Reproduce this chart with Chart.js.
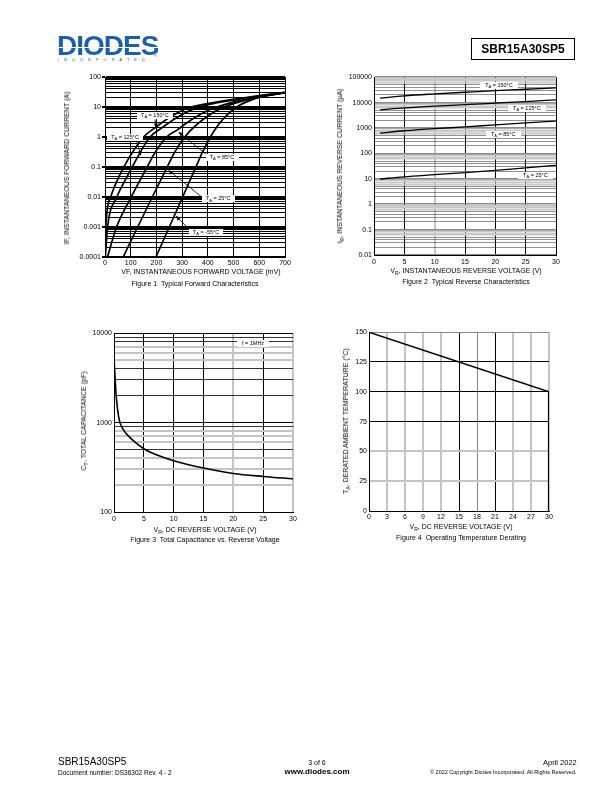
<!DOCTYPE html>
<html>
<head>
<meta charset="utf-8">
<script src="https://cdn.jsdelivr.net/npm/chart.js@4.4.1/dist/chart.umd.min.js"></script>
<style>
  body { margin: 0; background: #fff; }
  #page { position: relative; width: 612px; height: 792px; overflow: hidden; font-family: "Liberation Sans", Arial, sans-serif; color: #000; }
  canvas { position: absolute; }
  .t { position: absolute; white-space: nowrap; font-size: 7px; line-height: 8px; color: #000; transform: translate(-50%, -50%); will-change: transform; }
  .r { transform: translate(-50%, -50%) rotate(-90deg); }
  .t sub { font-size: 5px; vertical-align: -1.5px; line-height: 0; }
  .abs { position: absolute; white-space: nowrap; color: #000; will-change: transform; }
  #logo { left: 57px; top: 32px; font: bold 28px/28px "Liberation Sans", Arial, sans-serif; letter-spacing: -1px;
          color: transparent; -webkit-background-clip: text; background-clip: text;
          background-image: linear-gradient(to bottom, #1d5ea9 0, #1d5ea9 52%, #fff 52%, #fff 56%, #1d5ea9 56%, #1d5ea9 100%); }
  #inc { left: 58px; top: 58px; font: 4px/4px "Liberation Sans", Arial, sans-serif; letter-spacing: 5px; color: #1d5ea9; }
  #partbox { left: 471px; top: 38px; width: 104px; height: 22px; box-sizing: border-box; border: 1px solid #000;
             font: bold 12px/20px "Liberation Sans", Arial, sans-serif; text-align: center; }
</style>
</head>
<body>
<div id="page">
  <div id="logo" class="abs">DIODES</div>
  <div id="inc" class="abs">INCORPORATED</div>
  <div class="abs" style="left:154px;top:53px;font-size:4px;color:#1d5ea9">®</div>
  <div id="partbox" class="abs">SBR15A30SP5</div>

  <canvas id="c1"></canvas>
  <canvas id="c2"></canvas>
  <canvas id="c3"></canvas>
  <canvas id="c4"></canvas>

  <div class="t r" style="left:67px;top:168px">IF, INSTANTANEOUS FORWARD CURRENT (A)</div>
  <div class="t" style="left:201px;top:272px">VF, INSTANTANEOUS FORWARD VOLTAGE (mV)</div>
  <div class="t" style="left:195px;top:284px">Figure 1&nbsp; Typical Forward Characteristics</div>

  <div class="t r" style="left:340px;top:166px">I<sub>R</sub>, INSTANTANEOUS REVERSE CURRENT (µA)</div>
  <div class="t" style="left:466px;top:271px">V<sub>R</sub>, INSTANTANEOUS REVERSE VOLTAGE (V)</div>
  <div class="t" style="left:466px;top:282px">Figure 2&nbsp; Typical Reverse Characteristics</div>

  <div class="t r" style="left:84px;top:421px">C<sub>T</sub>, TOTAL CAPACITANCE (pF)</div>
  <div class="t" style="left:205px;top:530px">V<sub>R</sub>, DC REVERSE VOLTAGE (V)</div>
  <div class="t" style="left:205px;top:540px">Figure 3&nbsp; Total Capacitance vs. Reverse Voltage</div>

  <div class="t r" style="left:346px;top:421px">T<sub>A</sub>, DERATED AMBIENT TEMPERATURE (°C)</div>
  <div class="t" style="left:461px;top:527px">V<sub>R</sub>, DC REVERSE VOLTAGE (V)</div>
  <div class="t" style="left:461px;top:538px">Figure 4&nbsp; Operating Temperature Derating</div>

  <div class="abs" style="left:58px;top:757px;font-size:10px;line-height:10px">SBR15A30SP5</div>
  <div class="abs" style="left:58px;top:769px;font-size:6.5px;line-height:7px">Document number: DS36302 Rev. 4 - 2</div>
  <div class="abs" style="left:306px;top:759px;width:22px;text-align:center;font-size:7px;line-height:8px">3 of 6</div>
  <div class="abs" style="left:277px;top:767px;width:80px;text-align:center;font-size:8px;line-height:9px;font-weight:bold">www.diodes.com</div>
  <div class="abs" style="right:35px;top:759px;font-size:7.5px;line-height:8px">April 2022</div>
  <div class="abs" style="right:35px;top:769px;font-size:5.5px;line-height:6px">© 2022 Copyright Diodes Incorporated. All Rights Reserved.</div>
</div>

<script>
// ---- Figure 1: forward characteristics (mV, A) ----
const fwd150V = [0.3, 3, 22, 55, 78, 100, 150, 200, 260, 320, 400, 500, 600, 700];
const fwd150I = [1e-4, 1e-3, 0.01, 0.05, 0.117, 0.25, 1, 2.2, 5, 9, 13, 18, 24, 31];
const fwd125V = [1.2, 10, 46, 87, 110, 131, 175, 220, 280, 350, 420, 500, 600, 700];
const fwd125I = [1e-4, 1e-3, 0.01, 0.05, 0.117, 0.25, 1, 2, 4.5, 9, 13, 17, 23, 30];
const fwd85V = [9.7, 45, 102, 145, 168, 194, 240, 280, 330, 390, 450, 520, 600, 700];
const fwd85I = [1e-4, 1e-3, 0.01, 0.05, 0.117, 0.3, 1, 1.7, 3.5, 7, 11, 16, 22, 30];
const fwd25V = [71, 127, 184, 246, 270, 310, 350, 400, 450, 500, 560, 620, 700];
const fwd25I = [1e-4, 1e-3, 0.01, 0.117, 0.3, 1, 2.3, 5, 9, 13, 18, 23, 30];
const fwdM55V = [198, 250, 302, 357, 378, 410, 440, 480, 520, 560, 610, 700];
const fwdM55I = [1e-4, 1e-3, 0.01, 0.117, 0.3, 1, 2.5, 6, 11, 16, 22, 30];
const fwdYTicks = [1e-4, 1e-3, 0.01, 0.1, 1, 10, 100];
const fwdYLabels = ['0.0001', '0.001', '0.01', '0.1', '1', '10', '100'];

// ---- Figure 2: reverse characteristics (V, uA) ----
const revV = [1, 5, 10, 15, 20, 25, 30];
const rev150 = [15000, 18500, 22000, 25500, 29500, 33500, 38000];
const rev125 = [5200, 6200, 7300, 8300, 9600, 11000, 12900];
const rev85 = [630, 780, 950, 1100, 1330, 1580, 1870];
const rev25 = [9.8, 12, 14.5, 17.5, 21.5, 27, 34];
const revYTicks = [0.01, 0.1, 1, 10, 100, 1000, 10000, 100000];
const revYLabels = ['0.01', '0.1', '1', '10', '100', '1000', '10000', '100000'];

// ---- Figure 3: capacitance (V, pF) ----
const capV = [0, 0.1, 0.2, 0.3, 0.5, 0.75, 1, 1.5, 2, 3, 4, 5, 6, 8, 10, 12, 15, 20, 25, 30];
const capC = [5500, 4000, 3000, 2300, 1600, 1200, 1000, 850, 760, 650, 570, 510, 470, 415, 375, 345, 310, 270, 250, 235];
const capYTicks = [100, 1000, 10000];
const capYLabels = ['100', '1000', '10000'];

// ---- Figure 4: derating (V, degC) ----
const derV = [0, 30, 30];
const derT = [150, 100, 0];

const FONT = '"Liberation Sans", Arial, sans-serif';
Chart.defaults.font.family = FONT;
Chart.defaults.color = '#000';

function isDecade(v) { const l = Math.log10(v); return Math.abs(l - Math.round(l)) < 1e-6; }
function sig(v) { return Math.round(v / Math.pow(10, Math.floor(Math.log10(v) + 1e-9))); }
function logGrid(min, max) {
  const out = [];
  for (let e = Math.round(Math.log10(min)); e < Math.round(Math.log10(max)); e++) {
    for (let s = 1; s < 10; s++) out.push(+(s * Math.pow(10, e)).toPrecision(3));
  }
  out.push(max);
  return out;
}
function pts(xs, ys) { return xs.map((x, i) => ({ x: x, y: ys[i] })); }
function labelFor(ticks, labels) {
  return v => {
    for (let i = 0; i < ticks.length; i++) {
      if (Math.abs(v - ticks[i]) / ticks[i] < 1e-6) return labels[i];
    }
    return '';
  };
}
function line(data, w) {
  return { data: data, showLine: true, borderColor: '#000', borderWidth: w || 1.5, pointRadius: 0,
           cubicInterpolationMode: 'monotone', fill: false };
}

// labels with white boxes, and arrows, placed in data units
const notesPlugin = {
  id: 'notes',
  afterDatasetsDraw(chart, args, opts) {
    const items = opts.items || [];
    const ctx = chart.ctx, xs = chart.scales.x, ys = chart.scales.y;
    ctx.save();
    items.forEach(n => {
      if (!n.tail) return;
      const x0 = xs.getPixelForValue(n.tail[0]), y0 = ys.getPixelForValue(n.tail[1]);
      const x1 = xs.getPixelForValue(n.tip[0]), y1 = ys.getPixelForValue(n.tip[1]);
      const a = Math.atan2(y1 - y0, x1 - x0);
      ctx.strokeStyle = '#000'; ctx.lineWidth = 0.8;
      ctx.beginPath(); ctx.moveTo(x0, y0); ctx.lineTo(x1 - 3 * Math.cos(a), y1 - 3 * Math.sin(a)); ctx.stroke();
      ctx.fillStyle = '#000';
      ctx.beginPath();
      ctx.moveTo(x1, y1);
      ctx.lineTo(x1 - 5 * Math.cos(a) + 2 * Math.sin(a), y1 - 5 * Math.sin(a) - 2 * Math.cos(a));
      ctx.lineTo(x1 - 5 * Math.cos(a) - 2 * Math.sin(a), y1 - 5 * Math.sin(a) + 2 * Math.cos(a));
      ctx.closePath(); ctx.fill();
    });
    items.forEach(n => {
      const cx = xs.getPixelForValue(n.at[0]), cy = ys.getPixelForValue(n.at[1]);
      const big = '5.5px ' + FONT, small = '4px ' + FONT;
      const parts = n.label;
      ctx.font = big; const w0 = ctx.measureText(parts[0]).width;
      ctx.font = small; const w1 = parts[1] ? ctx.measureText(parts[1]).width : 0;
      ctx.font = big; const w2 = parts[2] ? ctx.measureText(parts[2]).width : 0;
      const tw = w0 + w1 + w2, bw = tw + (n.pad || 8), bh = 7;
      ctx.fillStyle = '#fff';
      ctx.fillRect(Math.round(cx - bw / 2), Math.round(cy - bh / 2), Math.round(bw), bh);
      ctx.fillStyle = '#000'; ctx.textBaseline = 'middle'; ctx.textAlign = 'left';
      let x = cx - tw / 2;
      ctx.font = big; ctx.fillText(parts[0], x, cy); x += w0;
      if (parts[1]) { ctx.font = small; ctx.fillText(parts[1], x, cy + 1.5); x += w1; }
      if (parts[2]) { ctx.font = big; ctx.fillText(parts[2], x, cy); }
    });
    ctx.restore();
  }
};

function plot(id, box, cfg) {
  const yw = 45, pt = 6, pr = 12, xh = 14;
  const cv = document.getElementById(id);
  cv.width = yw + box.w + pr;
  cv.height = pt + box.h + xh;
  cv.style.left = (box.l - yw) + 'px';
  cv.style.top = (box.t - pt) + 'px';
  cfg.type = 'scatter';
  cfg.plugins = [notesPlugin];
  const o = cfg.options;
  o.responsive = false;
  o.animation = false;
  o.devicePixelRatio = 1;
  o.events = [];
  o.layout = { padding: { top: pt, right: pr, left: 0, bottom: 0 } };
  o.plugins.legend = { display: false };
  o.plugins.tooltip = { enabled: false };
  o.scales.x.afterFit = s => { s.height = xh; };
  o.scales.y.afterFit = s => { s.width = yw; };
  return new Chart(cv, cfg);
}

function xAxis(min, max, step, grid, pad) {
  return {
    type: 'linear', min: min, max: max,
    ticks: { stepSize: step, font: { size: 7 }, padding: pad, maxRotation: 0, autoSkip: false },
    grid: Object.assign({ drawTicks: false }, grid),
    border: { color: '#000', width: 1 }
  };
}
function logAxis(min, max, ticks, labels, grid, tickOpts) {
  return {
    type: 'logarithmic', min: min, max: max,
    afterBuildTicks: ax => { ax.ticks = logGrid(min, max).map(v => ({ value: v })); },
    ticks: Object.assign({ autoSkip: false, font: { size: 7 }, padding: 2, callback: labelFor(ticks, labels) }, tickOpts || {}),
    grid: grid,
    border: { color: '#000', width: 1 }
  };
}
const tv = (c, d) => (c.tick ? c.tick.value : d);

// Figure 1
plot('c1', { l: 105, t: 77, w: 180, h: 180 }, {
  data: { datasets: [
    line(pts(fwd150V, fwd150I), 1.7), line(pts(fwd125V, fwd125I), 1.7), line(pts(fwd85V, fwd85I), 1.7),
    line(pts(fwd25V, fwd25I), 1.7), line(pts(fwdM55V, fwdM55I), 1.7)
  ] },
  options: {
    plugins: { notes: { items: [
      { label: ['T', 'A', ' = 150°C'], at: [194, 5.4], tail: [194, 3.8], tip: [201, 1.95] },
      { label: ['T', 'A', ' = 125°C'], at: [78, 1], tail: [123, 0.74], tip: [140, 0.233] },
      { label: ['T', 'A', ' = 85°C'], at: [455, 0.215], tail: [397, 0.25], tip: [285, 1.5] },
      { label: ['T', 'A', ' = 25°C'], at: [440, 0.0086], tail: [381, 0.0093], tip: [246, 0.079] },
      { label: ['T', 'A', ' = -55°C'], at: [393, 6.8e-4], tail: [331, 7.9e-4], tip: [275, 0.00238] }
    ] } },
    scales: {
      x: xAxis(0, 700, 100, { color: '#000', lineWidth: 1 }, 2),
      y: logAxis(1e-4, 100, fwdYTicks, fwdYLabels, {
        color: '#000',
        lineWidth: c => (isDecade(tv(c, 1)) ? 2 : 1),
        drawTicks: true, tickLength: 3,
        tickColor: c => (isDecade(tv(c, 1)) ? '#000' : 'rgba(0,0,0,0)')
      }, { padding: 1 })
    }
  }
});

// Figure 2
plot('c2', { l: 374, t: 77, w: 182, h: 178 }, {
  data: { datasets: [
    line(pts(revV, rev150), 1.3), line(pts(revV, rev125), 1.3), line(pts(revV, rev85), 1.3), line(pts(revV, rev25), 1.3)
  ] },
  options: {
    plugins: { notes: { items: [
      { label: ['T', 'A', ' = 150°C'], at: [20.6, 47000], pad: 10 },
      { label: ['T', 'A', ' = 125°C'], at: [25.2, 5900], pad: 10 },
      { label: ['T', 'A', ' = 85°C'], at: [21.3, 560], pad: 10 },
      { label: ['T', 'A', ' = 25°C'], at: [26.6, 13.2], pad: 10 }
    ] } },
    scales: {
      x: xAxis(0, 30, 5, {
        color: c => (tv(c, 0) === 10 ? '#c4c4c4' : '#000'),
        lineWidth: c => (tv(c, 0) === 10 ? 2 : 1)
      }, 3),
      y: logAxis(0.01, 100000, revYTicks, revYLabels, {
        drawTicks: false,
        color: c => { const s = sig(tv(c, 1)); return s === 1 ? '#8a8a8a' : (s >= 6 ? '#c8c8c8' : '#444'); },
        lineWidth: c => { const s = sig(tv(c, 1)); return s === 1 ? 1.5 : (s >= 6 ? 1.6 : 0.6); }
      })
    }
  }
});

// Figure 3
const capGray = [200, 300, 400, 600, 700, 800, 5000, 6000, 7000];
plot('c3', { l: 114, t: 333, w: 179, h: 179 }, {
  data: { datasets: [line(pts(capV, capC), 1.6)] },
  options: {
    plugins: { notes: { items: [{ label: ['f = 1MHz'], at: [23.3, 7600], pad: 10 }] } },
    scales: {
      x: xAxis(0, 30, 5, {
        color: c => ([20, 30].includes(tv(c, 0)) ? '#c4c4c4' : '#000'),
        lineWidth: c => ([20, 30].includes(tv(c, 0)) ? 2 : 1)
      }, 3),
      y: logAxis(100, 10000, capYTicks, capYLabels, {
        drawTicks: false,
        color: c => (capGray.includes(tv(c, 1)) ? '#c4c4c4' : '#000'),
        lineWidth: c => (capGray.includes(tv(c, 1)) ? 2 : (isDecade(tv(c, 1)) ? 1 : 0.8))
      })
    }
  }
});

// Figure 4
const derGrayX = [3, 6, 9, 12, 24, 27, 30];
plot('c4', { l: 369, t: 332, w: 180, h: 179 }, {
  data: { datasets: [Object.assign(line(pts(derV, derT), 1.4), {
    cubicInterpolationMode: 'default', tension: 0,
    segment: { borderWidth: c => (c.p0.parsed.x === c.p1.parsed.x ? 2.2 : 1.4) }
  })] },
  options: {
    plugins: {},
    scales: {
      x: xAxis(0, 30, 3, {
        color: c => { const v = tv(c, 0); return derGrayX.includes(v) ? '#c4c4c4' : (v === 18 ? '#888' : '#000'); },
        lineWidth: c => (derGrayX.includes(tv(c, 0)) ? 2 : 1)
      }, 2),
      y: {
        type: 'linear', min: 0, max: 150,
        ticks: { stepSize: 25, font: { size: 7 }, padding: 2 },
        grid: {
          drawTicks: false,
          color: c => { const v = tv(c, 0); return (v === 25 || v === 50) ? '#c4c4c4' : (v === 150 ? '#888' : '#000'); },
          lineWidth: c => { const v = tv(c, 0); return (v === 25 || v === 50) ? 2 : 1; }
        },
        border: { color: '#000', width: 1 }
      }
    }
  }
});
</script>
</body>
</html>
